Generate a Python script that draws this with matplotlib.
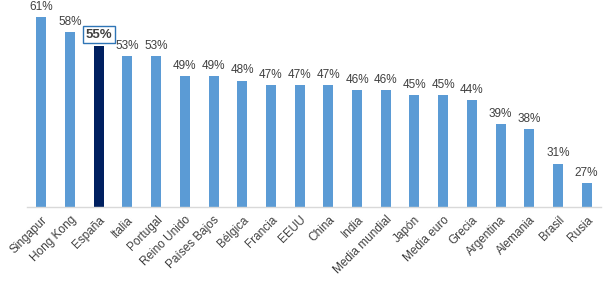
import numpy as np
import matplotlib.pyplot as plt

plt.rcParams['font.family'] = ['Liberation Sans', 'DejaVu Sans']

paises = ['Singapur', 'Hong Kong', 'España', 'Italia', 'Portugal', 'Reino Unido',
          'Países Bajos', 'Bélgica', 'Francia', 'EEUU', 'China', 'India',
          'Media mundial', 'Japón', 'Media euro', 'Grecia', 'Argentina',
          'Alemania', 'Brasil', 'Rusia']
valores = [61, 58, 55, 53, 53, 49, 49, 48, 47, 47, 47, 46, 46, 45, 45, 44, 39, 38, 31, 27]
destacado = 'España'

azul = '#5B9BD5'
marino = '#002060'
gris_texto = '#404040'

fig = plt.figure(figsize=(6.13, 2.82), dpi=100)
ax = fig.add_axes([27 / 613, (282 - 207) / 282, 574 / 613, 207 / 282])

x = np.arange(len(paises))
colores = [marino if p == destacado else azul for p in paises]
ax.bar(x, valores, width=0.35, color=colores, bottom=0, zorder=2)

for xi, v, p in zip(x, valores, paises):
    if p == destacado:
        ax.annotate(f'{v}%', (xi, v), xytext=(0, 4), textcoords='offset points',
                    ha='center', va='bottom', fontsize=9.5, fontweight='bold',
                    color=gris_texto,
                    bbox=dict(boxstyle='square,pad=0.2', fc='white', ec='#2E75B6', lw=1))
    else:
        ax.annotate(f'{v}%', (xi, v), xytext=(0, 3), textcoords='offset points',
                    ha='center', va='bottom', fontsize=8.5, color=gris_texto)

ax.set_xlim(-0.5, len(paises) - 0.5)
ax.set_ylim(22.1, 64.5)
ax.set_yticks([])
ax.set_xticks(x)
ax.set_xticklabels(paises, rotation=45, ha='right', rotation_mode='anchor',
                   fontsize=8.5, color=gris_texto)
ax.tick_params(axis='x', length=0, pad=5)
for s in ['top', 'right', 'left']:
    ax.spines[s].set_visible(False)
ax.spines['bottom'].set_color('#D9D9D9')
ax.spines['bottom'].set_linewidth(1)

fig.savefig('out.png', dpi=100)
